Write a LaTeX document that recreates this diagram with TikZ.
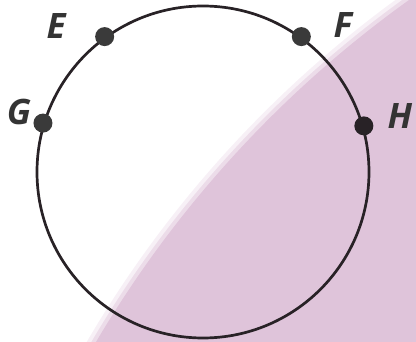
\documentclass[tikz,border=0pt]{standalone}
\usepackage{fontspec}
\setmainfont{Open Sans}
\definecolor{shadepink}{RGB}{223,196,218}
\definecolor{ringgray}{RGB}{40,34,38}
\definecolor{dotgray}{RGB}{58,58,58}
\definecolor{labelgray}{RGB}{52,52,52}

\begin{document}
\begin{tikzpicture}[
        x=1pt, y=-1pt,
        ring/.style={circle, draw=ringgray, line width=2.7pt, minimum size=332pt, inner sep=0pt},
        dot/.style={circle, fill=dotgray, inner sep=0pt, minimum size=19pt},
        lbl/.style={text=labelgray, inner sep=0pt, font=\fontsize{35}{35}\selectfont\bfseries\itshape}
    ]
        \useasboundingbox (0,0) rectangle (416,342);

        % Shaded region, with a soft edge
        \begin{scope}
            \clip (0,0) rectangle (416,342);
            \foreach \d/\op in {8/0.25, 4/0.45, 0/1} {
                \fill[shadepink, opacity=\op] (1058,908) circle (1116+\d);
            }
        \end{scope}

        % Circle
        \node (circ) at (203,172) [ring] {};

        % Points
        \node (e) at (circ.126) [dot] {};
        \node (f) at (circ.54) [dot] {};
        \node (g) at (circ.163) [dot] {};
        \node[dot, fill=ringgray] (h) at (circ.16) {};

        % Labels
        \node (lblE) at (56,26) [lbl] {E};
        \node (lblF) at (343,25) [lbl] {F};
        \node (lblG) at (19,112) [lbl] {G};
        \node (lblH) at (400,116) [lbl] {H};

    \end{tikzpicture}
\end{document}
